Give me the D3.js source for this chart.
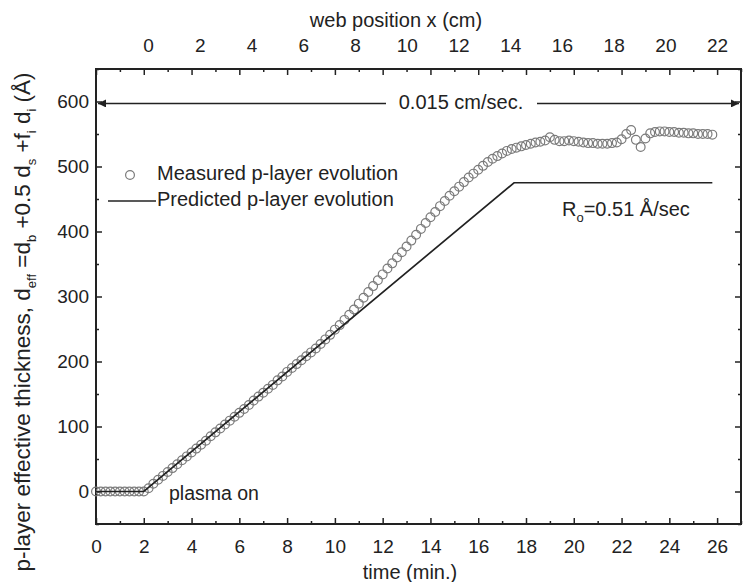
<!DOCTYPE html>
<html>
<head>
<meta charset="utf-8">
<script src="https://cdn.jsdelivr.net/npm/d3@7"></script>
<style>
  body { margin: 0; background: #fff; }
  svg text { font-family: "Liberation Sans", Arial, sans-serif; fill: #222; }
  .axis path, .axis line { stroke: #222; }
</style>
</head>
<body>
<div id="chart"></div>
<script>
// measured p-layer thickness (Å) vs time (min)
var timeMin = [0, 0.2, 0.4, 0.6, 0.8, 1.0, 1.2, 1.4, 1.6, 1.8,
  2.0, 2.2, 2.4, 2.6, 2.8, 3.0, 3.2, 3.4, 3.6, 3.8,
  4.0, 4.2, 4.4, 4.6, 4.8, 5.0, 5.2, 5.4, 5.6, 5.8,
  6.0, 6.2, 6.4, 6.6, 6.8, 7.0, 7.2, 7.4, 7.6, 7.8,
  8.0, 8.2, 8.4, 8.6, 8.8, 9.0, 9.2, 9.4, 9.6, 9.8,
  10.0, 10.2, 10.4, 10.6, 10.8, 11.0, 11.2, 11.4, 11.6, 11.8,
  12.0, 12.2, 12.4, 12.6, 12.8, 13.0, 13.2, 13.4, 13.6, 13.8,
  14.0, 14.2, 14.4, 14.6, 14.8, 15.0, 15.2, 15.4, 15.6, 15.8,
  16.0, 16.2, 16.4, 16.6, 16.8, 17.0, 17.2, 17.4, 17.6, 17.8,
  18.0, 18.2, 18.4, 18.6, 18.8, 19.0, 19.2, 19.4, 19.6, 19.8,
  20.0, 20.2, 20.4, 20.6, 20.8, 21.0, 21.2, 21.4, 21.6, 21.8,
  22.0, 22.2, 22.4, 22.6, 22.8, 23.0, 23.2, 23.4, 23.6, 23.8,
  24.0, 24.2, 24.4, 24.6, 24.8, 25.0, 25.2, 25.4, 25.6, 25.8]
var measured = [0, 0, 0, 0, 0, 0, 0, 0, 0, 0,
  0, 5, 12, 18, 24, 30, 36, 42, 48, 54,
  60, 66, 72, 78, 85, 91, 97, 103, 109, 115,
  121, 127, 133, 140, 146, 152, 158, 164, 171, 177,
  184, 190, 196, 202, 208, 214, 220, 227, 234, 241,
  249, 256, 264, 272, 280, 289, 298, 307, 316, 325,
  334, 343, 351, 360, 368, 377, 386, 395, 404, 413,
  422, 430, 439, 447, 455, 462, 469, 476, 483, 489,
  495, 501, 507, 512, 516, 520, 524, 527, 529, 531,
  533, 535, 537, 538, 540, 545, 541, 539, 539, 540,
  539, 538, 537, 536, 536, 535, 535, 535, 536, 537,
  542, 550, 556, 541, 530, 543, 551, 553, 554, 554,
  553, 553, 552, 552, 551, 551, 550, 550, 550, 549]

// predicted evolution at R_o = 0.51 Å/sec (break points)
var predTime = [0, 2, 17.5, 25.8]
var predicted = [0, 0, 475, 475]

var xMajor = [0, 2, 4, 6, 8, 10, 12, 14, 16, 18, 20, 22, 24, 26]
var xMinor = [1, 3, 5, 7, 9, 11, 13, 15, 17, 19, 21, 23, 25, 27]
var yMajor = [0, 100, 200, 300, 400, 500, 600]
var yMinor = [-50, 50, 150, 250, 350, 450, 550, 650]
var webTicks = [0, 2, 4, 6, 8, 10, 12, 14, 16, 18, 20, 22]

var width = 744, height = 582
var margin = {top: 69, right: 3, bottom: 58, left: 96}
var w = width - margin.left - margin.right
var h = height - margin.top - margin.bottom

var svg = d3.select("#chart").append("svg")
    .attr("width", width)
    .attr("height", height)

var g = svg.append("g")
    .attr("transform", "translate(" + margin.left + "," + margin.top + ")")

var x = d3.scaleLinear().domain([0, 27]).range([0, w])
var y = d3.scaleLinear().domain([-50, 650]).range([h, 0])
// web position: 0 cm reached a little after plasma on
var xWeb = d3.scaleLinear().domain([0, 22]).range([x(2.18), x(26)])

function styleAxis(sel){
    sel.attr("class", "axis")
    sel.select(".domain").remove()
    sel.selectAll("line").attr("stroke-width", 1.5)
    sel.selectAll("text").attr("font-size", 19)
}

// bottom
g.append("g").attr("transform", "translate(0," + h + ")")
    .call(d3.axisBottom(x).tickValues(xMajor).tickSize(-6).tickPadding(16).tickFormat(d3.format("d")))
    .call(styleAxis)
g.append("g").attr("transform", "translate(0," + h + ")")
    .call(d3.axisBottom(x).tickValues(xMinor).tickSize(-3).tickFormat(""))
    .call(styleAxis)
// top (mirrored ticks)
g.append("g")
    .call(d3.axisTop(x).tickValues(xMajor).tickSize(-6).tickFormat(""))
    .call(styleAxis)
g.append("g")
    .call(d3.axisTop(x).tickValues(xMinor).tickSize(-3).tickFormat(""))
    .call(styleAxis)
g.append("g")
    .call(d3.axisTop(xWeb).tickValues(webTicks).tickSize(0).tickPadding(17).tickFormat(d3.format("d")))
    .call(styleAxis)
// left
g.append("g")
    .call(d3.axisLeft(y).tickValues(yMajor).tickSize(-6).tickPadding(7))
    .call(styleAxis)
g.append("g")
    .call(d3.axisLeft(y).tickValues(yMinor).tickSize(-3).tickFormat(""))
    .call(styleAxis)
// right
g.append("g").attr("transform", "translate(" + w + ",0)")
    .call(d3.axisRight(y).tickValues(yMajor).tickSize(-6).tickFormat(""))
    .call(styleAxis)
g.append("g").attr("transform", "translate(" + w + ",0)")
    .call(d3.axisRight(y).tickValues(yMinor).tickSize(-3).tickFormat(""))
    .call(styleAxis)

// frame
g.append("rect")
    .attr("width", w).attr("height", h)
    .attr("fill", "none").attr("stroke", "#222").attr("stroke-width", 2)

// measured circles
var pts = timeMin.map((t, i) => ({t: t, v: measured[i]}))
g.append("g").selectAll("circle")
    .data(pts)
    .enter().append("circle")
    .attr("cx", d => x(d.t))
    .attr("cy", d => y(d.v))
    .attr("r", 4.4)
    .attr("fill", "none")
    .attr("stroke", "#7a7a7a")
    .attr("stroke-width", 1.2)

// predicted line
var predPts = predTime.map((t, i) => ({t: t, v: predicted[i]}))
g.append("path")
    .datum(predPts)
    .attr("fill", "none")
    .attr("stroke", "#222")
    .attr("stroke-width", 1.7)
    .attr("d", d3.line().x(d => x(d.t)).y(d => y(d.v)))

// speed arrow
var defs = svg.append("defs")
defs.append("marker")
    .attr("id", "arrowhead")
    .attr("viewBox", "0 0 10 10")
    .attr("refX", 10).attr("refY", 5)
    .attr("markerWidth", 10).attr("markerHeight", 8)
    .attr("markerUnits", "userSpaceOnUse")
    .attr("orient", "auto")
    .append("path").attr("d", "M0,0L10,5L0,10Z").attr("fill", "#222")

var arrowY = y(597)
g.append("line")
    .attr("x1", 290).attr("x2", 2)
    .attr("y1", arrowY).attr("y2", arrowY)
    .attr("stroke", "#222").attr("stroke-width", 1.5)
    .attr("marker-end", "url(#arrowhead)")
g.append("line")
    .attr("x1", 441).attr("x2", w - 2)
    .attr("y1", arrowY).attr("y2", arrowY)
    .attr("stroke", "#222").attr("stroke-width", 1.5)
    .attr("marker-end", "url(#arrowhead)")
g.append("text")
    .attr("x", 365).attr("y", arrowY)
    .attr("dominant-baseline", "middle")
    .attr("text-anchor", "middle")
    .attr("font-size", 20)
    .text("0.015 cm/sec.")

// legend
var leg = g.append("g")
leg.append("circle")
    .attr("cx", 34).attr("cy", 106)
    .attr("r", 4.4).attr("fill", "none")
    .attr("stroke", "#7a7a7a").attr("stroke-width", 1.2)
leg.append("text")
    .attr("x", 61).attr("y", 106)
    .attr("dominant-baseline", "middle")
    .attr("font-size", 20)
    .text("Measured p-layer evolution")
leg.append("line")
    .attr("x1", 12).attr("x2", 60)
    .attr("y1", 132).attr("y2", 132)
    .attr("stroke", "#222").attr("stroke-width", 1.7)
leg.append("text")
    .attr("x", 61).attr("y", 132)
    .attr("dominant-baseline", "middle")
    .attr("font-size", 20)
    .text("Predicted p-layer evolution")

// R_o annotation
var ro = g.append("text")
    .attr("x", 466).attr("y", 147)
    .attr("font-size", 20)
ro.append("tspan").text("R")
ro.append("tspan").attr("font-size", 13).attr("dy", 6).text("o")
ro.append("tspan").attr("dy", -6).text("=0.51 Å/sec")

g.append("text")
    .attr("x", 73).attr("y", y(0) + 8)
    .attr("font-size", 19.5)
    .text("plasma on")

// axis titles
svg.append("text")
    .attr("x", 396).attr("y", 27)
    .attr("text-anchor", "middle")
    .attr("font-size", 20)
    .text("web position x (cm)")
svg.append("text")
    .attr("x", 410).attr("y", 579)
    .attr("text-anchor", "middle")
    .attr("font-size", 20)
    .text("time (min.)")

var yl = svg.append("text")
    .attr("transform", "translate(30," + 322 + ") rotate(-90)")
    .attr("text-anchor", "middle")
    .attr("font-size", 22.5)
yl.append("tspan").text("p-layer effective thickness, d")
yl.append("tspan").attr("font-size", 13).attr("dy", 6).text("eff")
yl.append("tspan").attr("dy", -6).text(" =d")
yl.append("tspan").attr("font-size", 13).attr("dy", 6).text("b")
yl.append("tspan").attr("dy", -6).text(" +0.5 d")
yl.append("tspan").attr("font-size", 13).attr("dy", 6).text("s")
yl.append("tspan").attr("dy", -6).text(" +f")
yl.append("tspan").attr("font-size", 13).attr("dy", 6).text("i")
yl.append("tspan").attr("dy", -6).text(" d")
yl.append("tspan").attr("font-size", 13).attr("dy", 6).text("i")
yl.append("tspan").attr("dy", -6).text(" (Å)")
</script>
</body>
</html>
